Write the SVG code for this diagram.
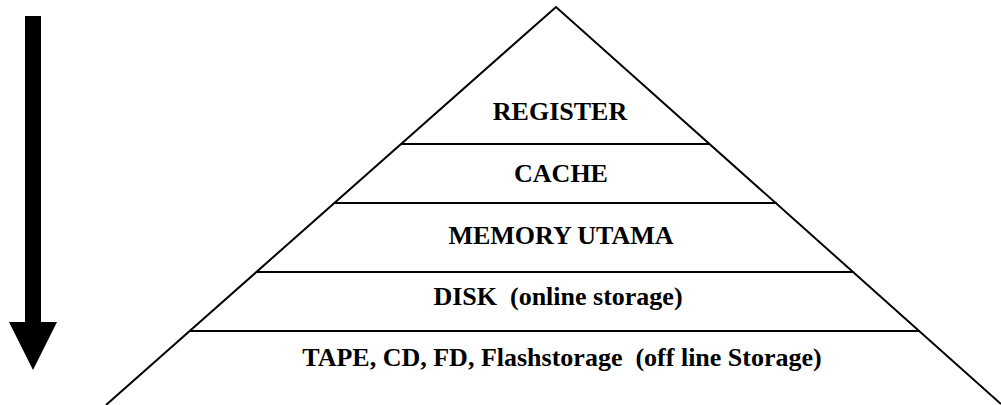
<svg xmlns="http://www.w3.org/2000/svg" width="1001" height="405" viewBox="0 0 1001 405">
<style>
.ln{stroke:#000;stroke-width:2;fill:none}
.t{font-family:'Liberation Serif','Times New Roman',Times,serif;font-weight:700;font-size:26px;fill:#000;text-anchor:middle;white-space:pre}
</style>
<rect width="1001" height="405" fill="#fff"/>
<g id="arrow">
<rect x="25" y="16" width="16" height="308" fill="#000"/>
<polygon points="9,322 57,322 33,370" fill="#000"/>
</g>
<g id="connectors">
<polyline class="ln" points="106,405 556,7 1001,404"/>
</g>
<g id="register"><text class="t" x="560" y="120" font-family="Liberation Serif, serif">REGISTER</text></g>
<g id="cache"><line class="ln" x1="401" y1="144" x2="710" y2="144"/><text class="t" x="561" y="182" font-family="Liberation Serif, serif">CACHE</text></g>
<g id="memory"><line class="ln" x1="335" y1="203" x2="777" y2="203"/><text class="t" x="561" y="244" font-family="Liberation Serif, serif">MEMORY UTAMA</text></g>
<g id="disk"><line class="ln" x1="257" y1="272" x2="854" y2="272"/><text class="t" x="558" y="305" font-family="Liberation Serif, serif">DISK  (online storage)</text></g>
<g id="tape"><line class="ln" x1="190" y1="331" x2="920" y2="331"/><text class="t" x="562" y="366" font-family="Liberation Serif, serif" font-size="26.5">TAPE, CD, FD, Flashstorage  (off line Storage)</text></g>
</svg>
